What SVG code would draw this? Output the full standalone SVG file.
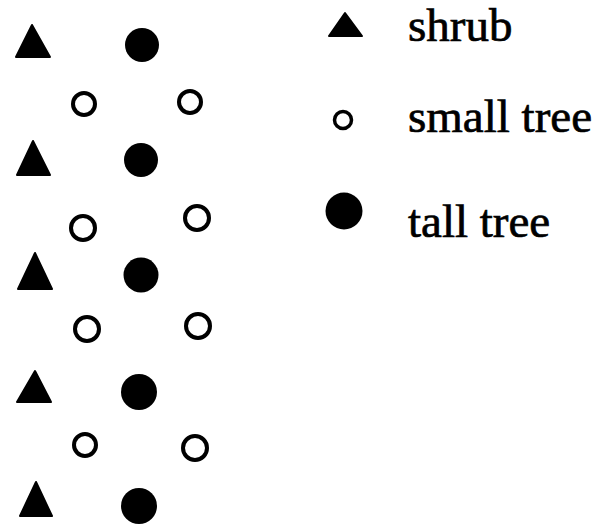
<svg xmlns="http://www.w3.org/2000/svg" width="606" height="526" viewBox="0 0 606 526">
<style>
.shrub{fill:#000;stroke:#000;stroke-width:2;stroke-linejoin:round}
.small{fill:none;stroke:#000;stroke-width:4}
.tall{fill:#000}
.lbl{font-family:"Liberation Serif","Times New Roman",serif;font-size:47px;fill:#000;stroke:#000;stroke-width:0.7}
</style>
<rect width="606" height="526" fill="#fff"/>
<g id="plants">
<g id="shrub1"><polygon class="shrub" points="16,57 32,25 50,57"/></g>
<g id="tall1"><circle class="tall" cx="142" cy="45" r="17"/></g>
<g id="small1"><circle class="small" cx="84" cy="104" r="11"/></g>
<g id="small2"><circle class="small" cx="190" cy="102" r="11"/></g>
<g id="shrub2"><polygon class="shrub" points="17,175 33,141 50,175"/></g>
<g id="tall2"><circle class="tall" cx="141" cy="160" r="17"/></g>
<g id="small3"><circle class="small" cx="83" cy="228" r="12"/></g>
<g id="small4"><circle class="small" cx="197" cy="218" r="12"/></g>
<g id="shrub3"><polygon class="shrub" points="18,289 35,253 52,289"/></g>
<g id="tall3"><circle class="tall" cx="141" cy="275" r="17.5"/></g>
<g id="small5"><circle class="small" cx="87" cy="329" r="12"/></g>
<g id="small6"><circle class="small" cx="198" cy="326" r="12"/></g>
<g id="shrub4"><polygon class="shrub" points="17,402 35,371 51,402"/></g>
<g id="tall4"><circle class="tall" cx="139" cy="392" r="18"/></g>
<g id="small7"><circle class="small" cx="85" cy="445" r="11"/></g>
<g id="small8"><circle class="small" cx="195" cy="448" r="12"/></g>
<g id="shrub5"><polygon class="shrub" points="20,516 36,482 52,516"/></g>
<g id="tall5"><circle class="tall" cx="139" cy="506" r="18"/></g>
</g>
<g id="legend">
<g id="leg-shrub"><polygon class="shrub" points="329,36 345,13 362,36"/><text class="lbl" x="408" y="41">shrub</text></g>
<g id="leg-small"><circle cx="343" cy="120" r="8.5" fill="none" stroke="#000" stroke-width="3.5"/><text class="lbl" x="408" y="132">small tree</text></g>
<g id="leg-tall"><circle class="tall" cx="344" cy="211" r="18.5"/><text class="lbl" x="408" y="237">tall tree</text></g>
</g>
<g id="connectors"/>
</svg>
